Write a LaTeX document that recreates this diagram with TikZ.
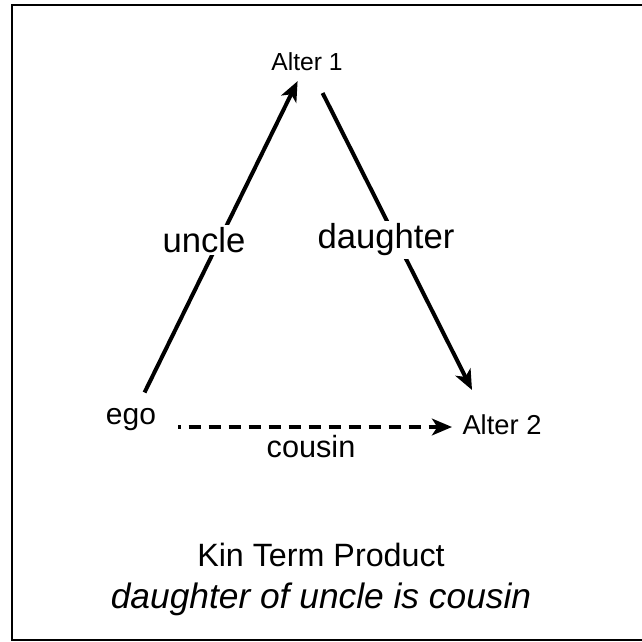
\documentclass[tikz,border=0pt]{standalone}
\usepackage{fontspec}
\setmainfont{Liberation Sans}
\usetikzlibrary{arrows.meta}
\begin{document}
\begin{tikzpicture}[x=0.75pt,y=-0.75pt,
  term/.style={inner sep=0pt, font=\fontsize{#1}{#1}\selectfont},
  term/.default=21,
  lbl/.style={inner sep=0pt, font=\fontsize{26}{26}\selectfont},
  link/.style={line width=3pt, -{Stealth[length=15pt,width=12.5pt,inset=4pt]}},
  dashlink/.style={link, dash pattern=on 9pt off 6pt, dash phase=7pt}]
  \useasboundingbox (0,0) rectangle (642,642);
  \begin{scope}
    \clip (0,0) rectangle (642,642);
    \draw[line width=2.2pt] (12,5) rectangle (660,640);
  \end{scope}

  % kin nodes
  \node[term=18.5] (a1) at (307,62) {Alter 1};
  \node[term=22.5] (ego) at (131,420) {ego};
  \node[term=20.5] (a2) at (502,425) {Alter 2};

  % relations
  \draw[link, shorten <=23pt, shorten >=16pt] (ego.center) -- (a1.center);
  \draw[link, shorten <=26pt, shorten >=0pt]
    (a1.center) -- ([shift={(-30,-35)}]a2.center);
  \draw[dashlink] ([shift={(47,7)}]ego.center) -- ([shift={(-50,2)}]a2.center);

  % relation labels
  \node[lbl, fill=white, inner sep=2pt] (uncle) at (204,240) {uncle};
  \node[lbl, fill=white, inner sep=2pt] (daughter) at (386,240) {daughter};
  \node[term=23] (cousin) at (311,447) {cousin};

  % caption
  \node[term=24.2] (title) at (321,555) {Kin Term Product};
  \node[term=26.5, font=\fontsize{26.5}{26.5}\selectfont\itshape] (sub) at (321,599) {daughter of uncle is cousin};
\end{tikzpicture}
\end{document}
